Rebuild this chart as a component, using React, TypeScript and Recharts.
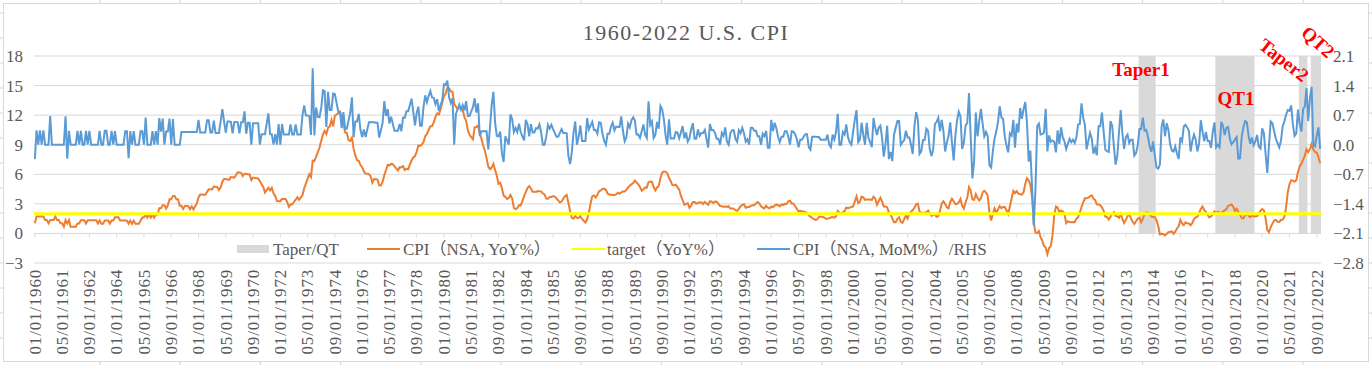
import {
  ComposedChart,
  Line,
  XAxis,
  YAxis,
  CartesianGrid,
  ReferenceArea,
  ReferenceLine,
} from 'recharts'

const W = 1372
const H = 365
const FONT = "'Liberation Serif', 'Noto Sans CJK SC', serif"
const TEXT = '#595959'
const GRID = '#D9D9D9'
const ORANGE = '#ED7D31'
const BLUE = '#5B9BD5'
const YELLOW = '#FFFF00'
const SHADE = '#D9D9D9'

const START_YEAR = 1960

// CPI (NSA, YoY%), monthly Jan 1960 - Nov 2022, one row per year
const yoy = [
  1.03, 1.73, 1.73, 1.72, 1.72, 1.72, 1.37, 1.37, 1.02, 1.36, 1.36, 1.36,
  1.71, 1.36, 1.36, 1.02, 1.02, 0.68, 1.35, 1.01, 1.35, 0.67, 0.67, 0.67,
  0.67, 1.01, 1.01, 1.34, 1.34, 1.34, 1.0, 1.34, 1.33, 1.33, 1.33, 1.33,
  1.33, 1.0, 1.33, 0.99, 0.99, 1.32, 1.32, 1.32, 0.99, 1.32, 1.32, 1.64,
  1.64, 1.64, 1.31, 1.31, 1.31, 1.31, 1.3, 0.98, 1.3, 0.97, 1.3, 0.97,
  0.97, 0.97, 1.29, 1.62, 1.62, 1.94, 1.61, 1.94, 1.61, 1.93, 1.6, 1.92,
  1.92, 2.56, 2.56, 2.87, 2.87, 2.53, 2.85, 3.48, 3.48, 3.79, 3.79, 3.46,
  3.46, 2.81, 2.8, 2.48, 2.79, 2.78, 2.77, 2.45, 2.75, 2.43, 2.74, 3.04,
  3.65, 3.95, 3.94, 3.93, 3.92, 4.2, 4.49, 4.48, 4.46, 4.75, 4.73, 4.72,
  4.4, 4.68, 5.25, 5.52, 5.51, 5.48, 5.44, 5.71, 5.7, 5.67, 5.93, 6.2,
  6.18, 6.15, 5.82, 6.06, 6.04, 6.01, 5.98, 5.41, 5.66, 5.63, 5.6, 5.57,
  5.29, 5.0, 4.71, 4.16, 4.4, 4.64, 4.36, 4.62, 4.08, 3.81, 3.28, 3.27,
  3.27, 3.51, 3.5, 3.49, 3.23, 2.71, 2.95, 2.94, 3.19, 3.42, 3.67, 3.41,
  3.65, 3.87, 4.59, 5.06, 5.53, 6.0, 5.73, 7.38, 7.36, 7.8, 8.25, 8.71,
  9.39, 10.02, 10.39, 10.09, 10.71, 10.86, 11.51, 10.86, 11.95, 12.06, 12.2, 12.34,
  11.8, 11.23, 10.25, 10.21, 9.47, 9.39, 9.72, 8.6, 7.91, 7.44, 7.38, 6.94,
  6.72, 6.29, 6.07, 6.05, 6.02, 5.78, 5.16, 5.52, 5.49, 5.46, 4.88, 4.86,
  5.22, 5.91, 6.44, 6.95, 6.91, 7.05, 7.02, 6.81, 6.6, 6.39, 6.72, 6.7,
  6.84, 6.43, 6.55, 6.5, 6.97, 7.41, 7.7, 7.84, 8.31, 8.93, 8.89, 9.02,
  9.28, 9.86, 10.09, 10.49, 10.85, 10.89, 11.26, 11.82, 12.18, 12.07, 12.61, 13.29,
  13.91, 14.18, 14.76, 14.73, 14.41, 14.38, 13.13, 12.87, 12.6, 12.77, 12.65, 12.52,
  11.83, 11.41, 10.49, 10.0, 9.78, 9.55, 10.76, 10.8, 10.95, 10.14, 9.59, 8.92,
  8.39, 7.62, 6.78, 6.51, 6.68, 7.06, 6.44, 5.85, 5.04, 5.14, 4.59, 3.83,
  3.71, 3.49, 3.6, 3.9, 3.55, 2.58, 2.46, 2.56, 2.86, 2.85, 3.27, 3.79,
  4.19, 4.6, 4.8, 4.56, 4.23, 4.22, 4.2, 4.29, 4.27, 4.26, 4.05, 3.95,
  3.53, 3.52, 3.7, 3.69, 3.77, 3.76, 3.55, 3.35, 3.14, 3.23, 3.51, 3.8,
  3.89, 3.11, 2.26, 1.59, 1.49, 1.77, 1.58, 1.57, 1.75, 1.47, 1.28, 1.1,
  1.46, 2.1, 3.03, 3.78, 3.86, 3.65, 3.93, 4.28, 4.36, 4.53, 4.53, 4.43,
  4.05, 3.94, 3.93, 3.9, 3.89, 3.96, 4.13, 4.02, 4.17, 4.25, 4.25, 4.42,
  4.67, 4.83, 4.98, 5.12, 5.36, 5.17, 4.98, 4.71, 4.34, 4.49, 4.66, 4.65,
  5.2, 5.26, 5.23, 4.71, 4.36, 4.67, 4.82, 5.62, 6.16, 6.29, 6.27, 6.11,
  5.65, 5.31, 4.9, 4.89, 4.95, 4.7, 4.45, 3.8, 3.39, 2.92, 2.99, 3.06,
  2.6, 2.82, 3.19, 3.18, 3.02, 3.09, 3.16, 3.15, 2.99, 3.2, 3.05, 2.9,
  3.26, 3.25, 3.09, 3.23, 3.22, 3.0, 2.78, 2.77, 2.69, 2.75, 2.68, 2.75,
  2.52, 2.52, 2.51, 2.36, 2.29, 2.49, 2.77, 2.9, 2.96, 2.61, 2.67, 2.67,
  2.8, 2.86, 2.85, 3.05, 3.19, 3.04, 2.76, 2.62, 2.54, 2.81, 2.61, 2.54,
  2.73, 2.65, 2.84, 2.9, 2.89, 2.75, 2.95, 2.88, 3.0, 2.99, 3.26, 3.32,
  3.04, 3.03, 2.76, 2.5, 2.23, 2.3, 2.23, 2.23, 2.15, 2.08, 1.83, 1.7,
  1.57, 1.44, 1.37, 1.44, 1.69, 1.68, 1.68, 1.62, 1.49, 1.49, 1.55, 1.61,
  1.67, 1.61, 1.73, 2.28, 2.09, 1.96, 2.14, 2.26, 2.63, 2.56, 2.62, 2.68,
  2.74, 3.22, 3.76, 3.07, 3.19, 3.73, 3.66, 3.41, 3.45, 3.45, 3.45, 3.39,
  3.73, 3.53, 2.92, 3.27, 3.62, 3.25, 2.72, 2.72, 2.65, 2.13, 1.9, 1.55,
  1.14, 1.14, 1.48, 1.64, 1.18, 1.07, 1.46, 1.8, 1.51, 2.03, 2.2, 2.38,
  2.6, 2.98, 3.02, 2.22, 2.06, 2.11, 2.11, 2.16, 2.32, 2.04, 1.77, 1.88,
  1.93, 1.69, 1.74, 2.29, 3.05, 3.27, 2.99, 2.65, 2.54, 3.19, 3.52, 3.26,
  2.97, 3.01, 3.15, 3.51, 2.8, 2.53, 3.17, 3.64, 4.69, 4.35, 3.46, 3.42,
  3.99, 3.6, 3.36, 3.55, 4.17, 4.32, 4.15, 3.82, 2.06, 1.31, 1.97, 2.54,
  2.08, 2.42, 2.78, 2.57, 2.69, 2.69, 2.36, 1.97, 2.76, 3.54, 4.31, 4.08,
  4.28, 4.03, 3.98, 3.94, 4.18, 5.02, 5.6, 5.37, 4.94, 3.66, 1.07, 0.09,
  0.03, 0.24, -0.38, -0.74, -1.28, -1.43, -2.1, -1.48, -1.29, -0.18, 1.84, 2.72,
  2.63, 2.14, 2.31, 2.24, 2.02, 1.05, 1.24, 1.15, 1.14, 1.17, 1.14, 1.5,
  1.63, 2.11, 2.68, 3.16, 3.57, 3.56, 3.63, 3.77, 3.87, 3.53, 3.39, 2.96,
  2.93, 2.87, 2.65, 2.3, 1.7, 1.66, 1.41, 1.69, 1.99, 2.16, 1.76, 1.74,
  1.59, 1.98, 1.47, 1.06, 1.36, 1.75, 1.96, 1.52, 1.18, 0.96, 1.24, 1.5,
  1.58, 1.13, 1.51, 1.95, 2.13, 2.07, 1.99, 1.7, 1.66, 1.66, 1.32, 0.76,
  -0.09, -0.03, -0.07, -0.2, -0.04, 0.12, 0.17, 0.2, -0.04, 0.17, 0.5, 0.73,
  1.37, 1.02, 0.85, 1.13, 1.02, 1.0, 0.83, 1.06, 1.46, 1.64, 1.69, 2.07,
  2.5, 2.74, 2.38, 2.2, 1.87, 1.63, 1.73, 1.94, 2.23, 2.04, 2.2, 2.11,
  2.07, 2.21, 2.36, 2.46, 2.8, 2.87, 2.95, 2.7, 2.28, 2.52, 2.18, 1.91,
  1.55, 1.52, 1.86, 2.0, 1.79, 1.65, 1.81, 1.75, 1.71, 1.76, 2.05, 2.29,
  2.49, 2.33, 1.54, 0.33, 0.12, 0.65, 0.99, 1.31, 1.37, 1.18, 1.17, 1.36,
  1.4, 1.68, 2.62, 4.16, 4.99, 5.39, 5.37, 5.25, 5.39, 6.22, 6.81, 7.04,
  7.48, 7.87, 8.54, 8.26, 8.58, 9.06, 8.52, 8.26, 8.2, 7.75, 7.11,
]

// CPI (NSA, MoM%), same months, right axis
const mom = [
  -0.34, 0.34, 0, 0.34, 0, 0.34, 0, 0, 0, 0.68, 0, 0,
  0, 0, 0, 0, 0, 0, 0.67, -0.33, 0.33, 0, 0, 0,
  0, 0.33, 0, 0.33, 0, 0, 0.33, 0, 0.33, 0, 0, 0,
  0, 0, 0.33, 0, 0, 0.33, 0.33, 0, 0, 0.33, 0, 0.32,
  0, 0, 0, 0, 0, 0.32, 0.32, -0.32, 0.32, 0, 0.32, 0,
  0, 0, 0.32, 0.32, 0, 0.64, 0, 0, 0, 0.32, 0, 0.32,
  0, 0.63, 0.31, 0.62, 0, 0.31, 0.31, 0.62, 0, 0.61, 0, 0,
  0, 0, 0.3, 0.3, 0.3, 0.3, 0.3, 0.3, 0.3, 0.3, 0.3, 0.3,
  0.59, 0.29, 0.29, 0.29, 0.29, 0.58, 0.58, 0.29, 0.29, 0.57, 0.28, 0.28,
  0.28, 0.56, 0.84, 0.55, 0.28, 0.55, 0.55, 0.54, 0.27, 0.54, 0.54, 0.53,
  0.27, 0.53, 0.53, 0.79, 0.26, 0.52, 0.52, 0, 0.51, 0.51, 0.51, 0.51,
  0, 0.25, 0.25, 0.25, 0.5, 0.74, 0.25, 0.25, 0, 0.25, 0, 0.49,
  0, 0.49, 0.24, 0.24, 0.24, 0.24, 0.48, 0.24, 0.24, 0.48, 0.24, 0.24,
  0.24, 0.7, 0.93, 0.69, 0.69, 0.68, 0.23, 1.81, 0.22, 0.88, 0.66, 0.65,
  0.87, 1.29, 1.27, 0.42, 1.25, 0.82, 0.82, 1.21, 1.2, 0.99, 0.78, 0.78,
  0.39, 0.77, 0.38, 0.38, 0.57, 0.75, 1.12, 0.18, 0.55, 0.55, 0.73, 0.36,
  0.18, 0.36, 0.18, 0.36, 0.53, 0.53, 0.53, 0.53, 0.52, 0.52, 0.17, 0.34,
  0.52, 1.03, 0.68, 0.84, 0.5, 0.66, 0.49, 0.33, 0.33, 0.33, 0.49, 0.32,
  0.64, 0.64, 0.79, 0.79, 0.94, 1.09, 0.77, 0.46, 0.76, 0.9, 0.45, 0.45,
  0.89, 1.17, 1.01, 1.15, 1.27, 1.12, 1.11, 0.96, 1.08, 0.8, 0.93, 1.05,
  1.43, 1.41, 1.52, 1.12, 0.99, 1.1, 0, 0.73, 0.84, 0.95, 0.83, 0.94,
  0.81, 1.03, 0.68, 0.68, 0.79, 0.89, 1.1, 0.76, 0.98, 0.21, 0.32, 0.32,
  0.32, 0.32, -0.11, 0.42, 0.95, 1.25, 0.52, 0.21, 0.2, 0.31, -0.2, -0.41,
  0.2, 0.1, 0, 0.72, 0.61, 0.3, 0.4, 0.3, 0.5, 0.3, 0.2, 0.1,
  0.59, 0.49, 0.2, 0.49, 0.29, 0.29, 0.39, 0.38, 0.48, 0.29, 0, 0,
  0.19, 0.47, 0.38, 0.47, 0.37, 0.28, 0.19, 0.19, 0.28, 0.37, 0.28, 0.28,
  0.27, -0.27, -0.46, -0.18, 0.28, 0.55, 0, 0.18, 0.46, 0.09, 0.09, 0.09,
  0.63, 0.36, 0.45, 0.54, 0.35, 0.35, 0.26, 0.53, 0.52, 0.26, 0.09, 0,
  0.26, 0.26, 0.43, 0.52, 0.34, 0.43, 0.42, 0.42, 0.67, 0.33, 0.08, 0.17,
  0.5, 0.41, 0.58, 0.65, 0.57, 0.24, 0.24, 0.16, 0.32, 0.48, 0.24, 0.16,
  1.03, 0.47, 0.55, 0.16, 0.23, 0.54, 0.38, 0.92, 0.84, 0.6, 0.22, 0,
  0.6, 0.15, 0.15, 0.15, 0.3, 0.29, 0.15, 0.29, 0.44, 0.15, 0.29, 0.07,
  0.15, 0.36, 0.51, 0.14, 0.14, 0.36, 0.21, 0.28, 0.28, 0.35, 0.14, -0.07,
  0.49, 0.35, 0.35, 0.28, 0.14, 0.14, 0, 0.28, 0.21, 0.41, 0.07, 0,
  0.27, 0.34, 0.34, 0.14, 0.07, 0.34, 0.27, 0.4, 0.27, 0.07, 0.13, 0,
  0.4, 0.4, 0.33, 0.33, 0.2, 0.2, 0, 0.26, 0.2, 0.33, -0.07, -0.07,
  0.59, 0.32, 0.52, 0.39, 0.19, 0.06, 0.19, 0.19, 0.32, 0.32, 0.19, 0,
  0.32, 0.31, 0.25, 0.13, -0.06, 0.12, 0.12, 0.19, 0.25, 0.25, -0.06, -0.12,
  0.19, 0.19, 0.19, 0.18, 0.18, 0.12, 0.12, 0.12, 0.12, 0.24, 0, -0.06,
  0.24, 0.12, 0.3, 0.73, 0, 0, 0.3, 0.24, 0.48, 0.18, 0.06, 0,
  0.3, 0.59, 0.82, 0.06, 0.12, 0.52, 0.23, 0, 0.52, 0.17, 0.06, -0.06,
  0.63, 0.4, 0.23, 0.4, 0.45, 0.17, -0.28, 0, 0.45, -0.34, -0.17, -0.39,
  0.23, 0.4, 0.56, 0.56, 0, 0.06, 0.11, 0.33, 0.17, 0.17, 0, -0.22,
  0.44, 0.77, 0.6, -0.22, -0.16, 0.11, 0.11, 0.38, 0.33, -0.11, -0.27, -0.11,
  0.49, 0.54, 0.64, 0.32, 0.59, 0.32, -0.16, 0.05, 0.21, 0.53, 0.05, -0.37,
  0.21, 0.58, 0.78, 0.67, -0.1, 0.05, 0.46, 0.51, 1.22, 0.2, -0.8, -0.4,
  0.76, 0.2, 0.55, 0.85, 0.5, 0.2, 0.3, 0.2, -0.49, -0.54, -0.15, 0.15,
  0.31, 0.53, 0.91, 0.65, 0.61, 0.19, -0.02, -0.18, 0.27, 0.22, 0.59, -0.07,
  0.5, 0.29, 0.87, 0.61, 0.84, 1.01, 0.53, -0.4, -0.14, -1.01, -1.92, -1.04,
  0.44, 0.5, 0.24, 0.25, 0.29, 0.85, -0.16, 0.22, 0.07, 0.1, 0.07, -0.18,
  0.34, 0.02, 0.41, 0.17, 0.08, -0.1, 0.02, 0.14, 0.06, 0.12, 0.04, 0.17,
  0.48, 0.49, 0.98, 0.64, 0.47, -0.11, 0.09, 0.28, 0.15, -0.21, -0.08, -0.25,
  0.44, 0.44, 0.76, 0.3, -0.12, -0.15, -0.17, 0.56, 0.45, -0.04, -0.47, -0.27,
  0.3, 0.82, 0.26, -0.1, 0.18, 0.24, 0.04, 0.12, 0.12, -0.26, -0.2, -0.01,
  0.37, 0.37, 0.64, 0.33, 0.35, 0.19, -0.04, -0.17, 0.08, -0.25, -0.54, -0.57,
  -0.47, 0.43, 0.6, 0.2, 0.51, 0.35, 0.01, -0.14, -0.16, -0.04, -0.21, -0.34,
  0.17, 0.08, 0.43, 0.47, 0.41, 0.33, -0.16, 0.09, 0.24, 0.12, -0.16, 0.03,
  0.58, 0.31, 0.08, 0.3, 0.09, 0.09, -0.07, 0.3, 0.53, -0.06, 0, -0.06,
  0.54, 0.45, 0.23, 0.4, 0.42, 0.16, 0.01, 0.06, 0.12, 0.18, -0.33, -0.32,
  0.19, 0.42, 0.56, 0.53, 0.21, 0.02, 0.17, -0.01, 0.08, 0.23, -0.05, -0.09,
  0.39, 0.27, -0.22, -0.67, 0, 0.55, 0.51, 0.32, 0.14, 0.04, -0.06, 0.09,
  0.43, 0.55, 0.71, 0.82, 0.8, 0.93, 0.48, 0.21, 0.27, 0.83, 0.49, 0.31,
  0.84, 0.91, 1.34, 0.56, 1.1, 1.37, -0.01, -0.04, 0.22, 0.41, -0.1,
]

const TARGET = 2

const leftTicks = [-3, 0, 3, 6, 9, 12, 15, 18]
const rightTicks = [-2.8, -2.1, -1.4, -0.7, 0, 0.7, 1.4, 2.1]

// shaded Taper / QT periods (first month, last month)
const taperQT = [
  { name: 'Taper1', start: '2014-01', end: '2014-10' },
  { name: 'QT1', start: '2017-10', end: '2019-08' },
  { name: 'Taper2', start: '2021-11', end: '2022-03' },
  { name: 'QT2', start: '2022-06', end: '2022-11' },
]

const monthIndex = (s: string) => {
  const [y, m] = s.split('-').map(Number)
  return (y - START_YEAR) * 12 + (m - 1)
}

const monthLabel = (i: number) => {
  const y = START_YEAR + Math.floor(i / 12)
  const m = (i % 12) + 1
  return `${String(m).padStart(2, '0')}/01/${y}`
}

// a date label every 16 months
const labelTicks = yoy.map((_, i) => i).filter((i) => i % 16 === 0)

const data = yoy.map((v, i) => ({ i, yoy: v, mom: mom[i] }))

const legendItems = [
  { label: 'Taper/QT', kind: 'box', color: SHADE, x: 237, tx: 273 },
  { label: 'CPI（NSA, YoY%）', kind: 'line', color: ORANGE, x: 367, tx: 403 },
  { label: 'target（YoY%）', kind: 'line', color: YELLOW, x: 572, tx: 607 },
  { label: 'CPI（NSA, MoM%）/RHS', kind: 'line', color: BLUE, x: 757, tx: 793 },
]

const fmtMinus = (s: string) => s.replace('-', '−')

function MonthTick(props: any) {
  const { x, y, payload } = props
  return (
    <text
      x={x}
      y={y}
      dy="0.34em"
      textAnchor="end"
      transform={`rotate(-90, ${x}, ${y})`}
      fill={TEXT}
      fontSize={17}
      letterSpacing={0.8}
      fontFamily={FONT}
    >
      {monthLabel(payload.value)}
    </text>
  )
}

function SheetBackground() {
  const cols = Array.from({ length: 16 }, (_, k) => 100 + k * 80.2)
  const rows = Array.from({ length: 14 }, (_, k) => 13 + k * 25)
  return (
    <svg width={W} height={H} style={{ position: 'absolute', left: 0, top: 0 }}>
      {cols.map((x) => (
        <g key={x}>
          <line x1={x} x2={x} y1={0} y2={3} stroke="#D4D4D4" />
          <line x1={x} x2={x} y1={362} y2={H} stroke="#D4D4D4" />
        </g>
      ))}
      {rows.map((y) => (
        <g key={y}>
          <line x1={0} x2={3} y1={y} y2={y} stroke="#D4D4D4" />
          <line x1={1369} x2={W} y1={y} y2={y} stroke="#D4D4D4" />
        </g>
      ))}
      <rect x={3.5} y={3.5} width={1365} height={358} fill="#fff" stroke={GRID} />
    </svg>
  )
}

function Overlay() {
  const notes = { fill: '#FF0000', fontSize: 19, fontWeight: 700, fontFamily: FONT }
  return (
    <svg
      width={W}
      height={H}
      style={{ position: 'absolute', left: 0, top: 0, pointerEvents: 'none' }}
    >
      <text
        x={686}
        y={40}
        textAnchor="middle"
        fill={TEXT}
        fontSize={22}
        letterSpacing={1.5}
        fontFamily={FONT}
      >
        1960-2022 U.S. CPI
      </text>

      <text x={1141} y={76} textAnchor="middle" {...notes}>Taper1</text>
      <text x={1236} y={105} textAnchor="middle" {...notes}>QT1</text>
      <text
        x={1284}
        y={60}
        textAnchor="middle"
        dominantBaseline="central"
        transform="rotate(38 1284 60)"
        {...notes}
      >
        Taper2
      </text>
      <text
        x={1318}
        y={42}
        textAnchor="middle"
        dominantBaseline="central"
        transform="rotate(42 1318 42)"
        {...notes}
      >
        QT2
      </text>

      {legendItems.map((it) => (
        <g key={it.label}>
          {it.kind === 'box' ? (
            <rect x={it.x} y={245} width={32} height={8} fill={it.color} />
          ) : (
            <line
              x1={it.x}
              x2={it.x + 33}
              y1={249}
              y2={249}
              stroke={it.color}
              strokeWidth={2}
            />
          )}
          <text
            x={it.tx}
            y={249.5}
            dominantBaseline="central"
            fill={TEXT}
            fontSize={17}
            fontFamily={FONT}
          >
            {it.label}
          </text>
        </g>
      ))}
    </svg>
  )
}

export default function App() {
  return (
    <div style={{ position: 'relative', width: W, height: H, background: '#fff' }}>
      <style>{'body{margin:0}'}</style>
      <SheetBackground />
      <div style={{ position: 'absolute', left: 0, top: 0 }}>
        <ComposedChart
          width={W}
          height={H}
          data={data}
          margin={{ top: 56, right: 0, bottom: 0, left: 0 }}
        >
          <CartesianGrid yAxisId="left" vertical={false} stroke={GRID} />
          <XAxis
            type="number"
            dataKey="i"
            domain={[-0.5, yoy.length - 0.5]}
            allowDataOverflow
            ticks={labelTicks}
            interval={0}
            height={102}
            axisLine={false}
            tickLine={false}
            tickMargin={0}
            tick={<MonthTick />}
          />
          <YAxis
            yAxisId="left"
            domain={[-3, 18]}
            ticks={leftTicks}
            allowDataOverflow
            width={34}
            axisLine={false}
            tickLine={false}
            tickMargin={5}
            tickFormatter={(v: number) => fmtMinus(String(v))}
            tick={{ fill: TEXT, fontSize: 17, fontFamily: FONT }}
          />
          <YAxis
            yAxisId="right"
            orientation="right"
            domain={[-2.8, 2.1]}
            ticks={rightTicks}
            allowDataOverflow
            width={51}
            axisLine={false}
            tickLine={false}
            tickMargin={6}
            tickFormatter={(v: number) => fmtMinus(v.toFixed(1))}
            tick={{ fill: TEXT, fontSize: 17, fontFamily: FONT, textAnchor: 'start' }}
          />
          {taperQT.map((p) => (
            <ReferenceArea
              key={p.name}
              yAxisId="left"
              x1={monthIndex(p.start) - 0.5}
              x2={monthIndex(p.end) + 0.5}
              y1={0}
              y2={18}
              fill={SHADE}
              fillOpacity={1}
              stroke="none"
              ifOverflow="visible"
            />
          ))}
          {labelTicks.map((i) => (
            <ReferenceLine
              key={`t${i}`}
              yAxisId="left"
              segment={[
                { x: i, y: 0 },
                { x: i, y: -0.4 },
              ]}
              stroke={GRID}
            />
          ))}
          <Line
            yAxisId="left"
            type="linear"
            dataKey="yoy"
            stroke={ORANGE}
            strokeWidth={2}
            dot={false}
            activeDot={false}
            isAnimationActive={false}
          />
          <ReferenceLine yAxisId="left" y={TARGET} stroke={YELLOW} strokeWidth={3} />
          <Line
            yAxisId="right"
            type="linear"
            dataKey="mom"
            stroke={BLUE}
            strokeWidth={2}
            dot={false}
            activeDot={false}
            isAnimationActive={false}
          />
        </ComposedChart>
      </div>
      <Overlay />
    </div>
  )
}
